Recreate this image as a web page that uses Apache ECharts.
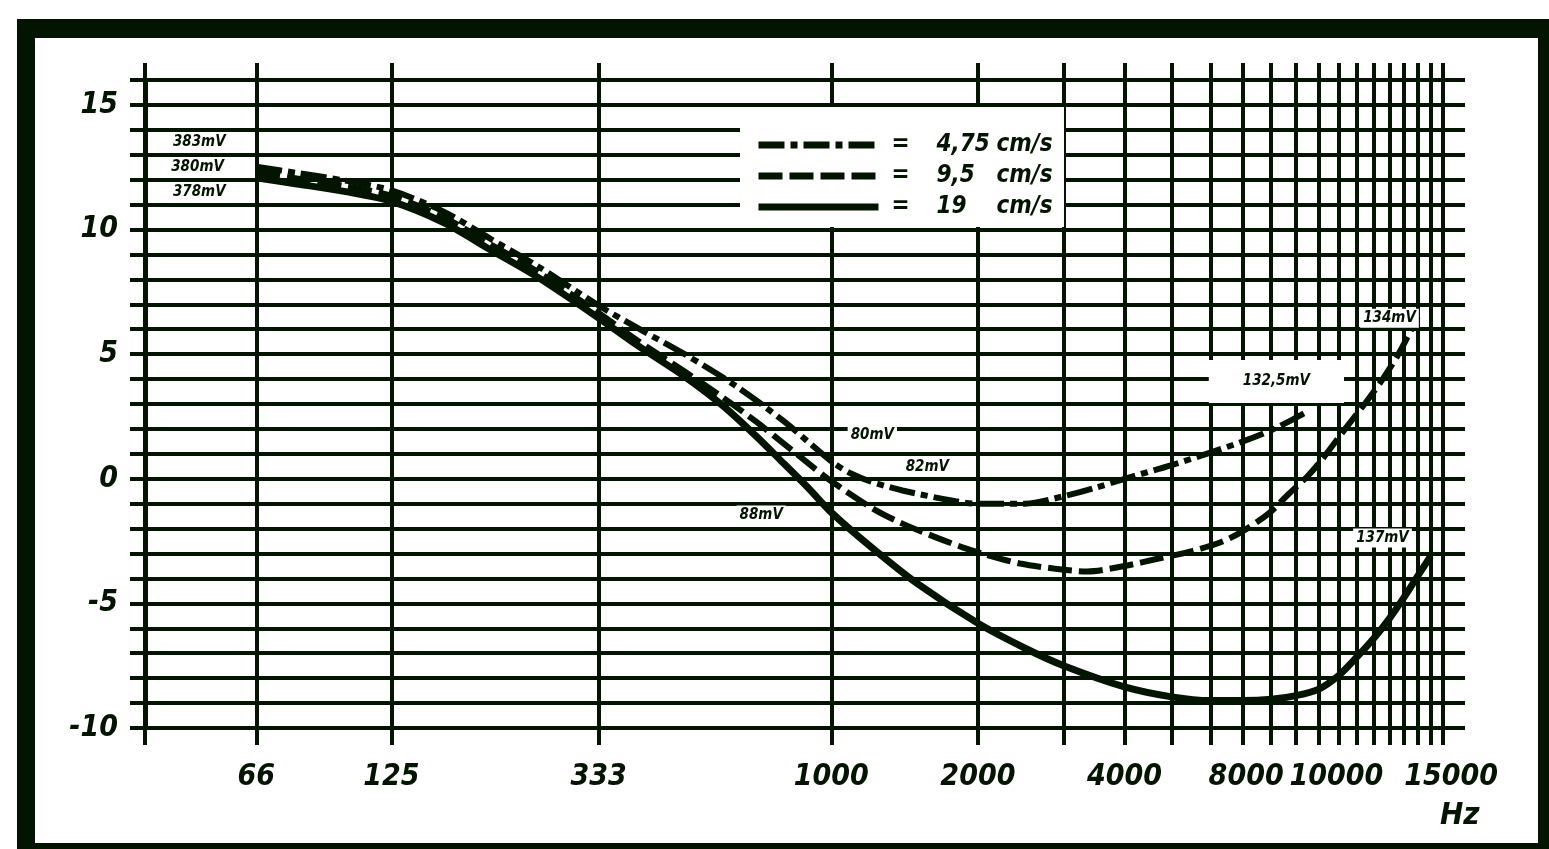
<!DOCTYPE html>
<html>
<head>
<meta charset="utf-8">
<script src="https://cdn.jsdelivr.net/npm/echarts@6/dist/echarts.min.js"></script>
<style>
html,body{margin:0;padding:0;background:#fff;}
#chart{width:1549px;height:849px;}
</style>
</head>
<body>
<div id="chart"></div>
<script>
// ---------- data ----------
const GRID_FREQS = [39, 66, 125, 333, 1000, 2000, 3000, 4000, 5000, 6000, 7000, 8000, 9000, 10000, 11000, 12000, 13000, 14000, 15000, 16000, 17000, 18000];
const LABEL_FREQS = [66, 125, 333, 1000, 2000, 4000, 8000, 10000, 15000];
const Y_LABELS = [-10, -5, 0, 5, 10, 15];

const SERIES_NAMES = ['4,75 cm/s', '9,5 cm/s', '19 cm/s'];

const F_475  = [66, 80, 100, 125, 160, 200, 250, 333, 400, 500, 634, 800, 1000, 1100, 1200, 1400, 1800, 2000, 2500, 3000, 3500, 4000, 5000, 6000, 7000, 8000, 9000, 9500];
const DB_475 = [12.52, 12.27, 11.97, 11.57, 10.72, 9.62, 8.52, 6.95, 6.05, 5.0, 3.75, 2.3, 0.7, 0.2, -0.1, -0.47, -0.9, -1.0, -1.0, -0.7, -0.35, 0.0, 0.55, 1.05, 1.5, 1.95, 2.45, 2.7];

const F_95  = [66, 80, 100, 125, 160, 200, 250, 333, 400, 500, 600, 700, 800, 900, 1000, 1230, 1400, 1640, 1860, 2080, 2440, 2860, 3350, 4000, 4700, 5500, 6300, 7000, 7900, 8700, 9500, 10200, 11300, 12500, 13500, 14500, 15300, 16000];
const DB_95 = [12.3, 12.05, 11.75, 11.35, 10.5, 9.4, 8.3, 6.65, 5.55, 4.3, 3.25, 2.3, 1.4, 0.6, -0.1, -1.25, -1.8, -2.35, -2.75, -3.05, -3.4, -3.6, -3.72, -3.5, -3.2, -2.9, -2.55, -2.1, -1.4, -0.6, 0.1, 0.8, 1.95, 3.05, 3.95, 4.9, 5.75, 6.5];

const F_19  = [66, 80, 100, 125, 160, 200, 250, 333, 400, 500, 600, 700, 800, 900, 1000, 1200, 1500, 2000, 2500, 3000, 4000, 5000, 6000, 7000, 8000, 9000, 10000, 11000, 12000, 13000, 14000, 15000, 16000, 17000];
const DB_19 = [12.08, 11.83, 11.53, 11.13, 10.28, 9.18, 8.08, 6.45, 5.35, 4.1, 2.92, 1.72, 0.6, -0.4, -1.35, -2.7, -4.2, -5.8, -6.8, -7.5, -8.35, -8.75, -8.9, -8.9, -8.85, -8.7, -8.45, -7.9, -7.15, -6.4, -5.6, -4.75, -3.9, -3.1];

const NOTE_TEXT = ['383mV', '380mV', '378mV', '80mV', '82mV', '88mV', '134mV', '132,5mV', '137mV'];
const NOTE_FREQ = [50.4, 50, 50.4, 1214, 1575, 718, 13996, 8200, 13540];
const NOTE_DB   = [13.5, 12.5, 11.5, 1.76, 0.47, -1.45, 6.44, 3.9, -2.38];

// ---------- styling ----------
const INK = '#031500';
const FONT = "'Liberation Sans Narrow', 'DejaVu Sans Condensed', 'Liberation Sans', sans-serif";

function pairs(f, d) { return f.map((v, i) => [v, d[i]]); }

const chart = echarts.init(document.getElementById('chart'), null, {renderer: 'canvas'});

const labelShift = {8000: 'l', 10000: 'r1', 15000: 'r2'};
const tickFont = {color: INK, fontFamily: FONT, fontSize: 30, fontStyle: 'italic', fontWeight: 'bold'};
const legendFont = {color: INK, fontFamily: FONT, fontSize: 24, fontStyle: 'italic', fontWeight: 'bold'};

const option = {
  animation: false,
  backgroundColor: '#ffffff',
  grid: {left: 145, right: 84, top: 80, bottom: 121, containLabel: false},
  xAxis: [{
    type: 'log', logBase: 10, min: 39, max: 20000,
    axisLine: {show: false, onZero: false},
    axisTick: {show: true, customValues: GRID_FREQS, length: 17, lineStyle: {color: INK, width: 4}},
    splitLine: {show: true, lineStyle: {color: INK, width: 4}},
    minorTick: {show: false}, minorSplitLine: {show: false},
    axisLabel: Object.assign({
      show: true, customValues: LABEL_FREQS, margin: 34,
      formatter: function (v) {
        const k = labelShift[v];
        return k ? '{' + k + '|' + v + '}' : String(v);
      },
      rich: {
        l:  Object.assign({padding: [0, 50, 0, 0]}, tickFont),
        r1: Object.assign({padding: [0, 0, 0, 36]}, tickFont),
        r2: Object.assign({padding: [0, 0, 0, 94]}, tickFont)
      }
    }, tickFont),
    name: 'Hz', nameLocation: 'end', nameGap: -25,
    nameTextStyle: {color: INK, fontFamily: FONT, fontSize: 31, fontStyle: 'italic', fontWeight: 'bold', verticalAlign: 'top', padding: [72, 0, 0, 0]}
  }, {
    type: 'log', logBase: 10, min: 39, max: 20000, position: 'top',
    axisLine: {show: false, onZero: false},
    axisTick: {show: true, customValues: GRID_FREQS, length: 17, lineStyle: {color: INK, width: 4}},
    axisLabel: {show: false}, splitLine: {show: false}
  }],
  yAxis: {
    type: 'value', min: -10, max: 16, interval: 1,
    axisLine: {show: true, onZero: false, lineStyle: {color: INK, width: 5}},
    axisTick: {show: true, length: 15, lineStyle: {color: INK, width: 4}},
    splitLine: {show: true, lineStyle: {color: INK, width: 4}},
    axisLabel: Object.assign({
      margin: 27,
      formatter: function (v) { return Y_LABELS.indexOf(v) >= 0 ? String(v) : ''; }
    }, tickFont)
  },
  legend: {
    left: 755, top: 132, padding: 0, orient: 'vertical', selectedMode: false, z: 20,
    itemWidth: 120, itemHeight: 14, itemGap: 5,
    data: SERIES_NAMES,
    lineStyle: {width: 7},
    itemStyle: {opacity: 0},
    formatter: function (name) {
      const parts = name.split(' ');
      return '{eq|=}{n|' + parts[0] + '}{u|' + parts[1] + '}';
    },
    textStyle: Object.assign({
      lineHeight: 26, align: 'left',
      rich: {
        eq: Object.assign({width: 30, align: 'left', padding: [0, 0, 0, 8]}, legendFont, {fontStyle: 'normal'}),
        n:  Object.assign({width: 56, align: 'left', padding: [0, 0, 0, 15]}, legendFont),
        u:  Object.assign({align: 'left', padding: [0, 0, 0, 4]}, legendFont)
      }
    }, legendFont)
  },
  graphic: [
    {type: 'rect', z: 10, shape: {x: 740, y: 107, width: 324, height: 120}, style: {fill: '#ffffff'}},
    {type: 'rect', z: 30, shape: {x: 17, y: 19, width: 18, height: 830}, style: {fill: INK}},
    {type: 'rect', z: 30, shape: {x: 17, y: 19, width: 1532, height: 19}, style: {fill: INK}},
    {type: 'rect', z: 30, shape: {x: 1538, y: 19, width: 11, height: 830}, style: {fill: INK}},
    {type: 'rect', z: 30, shape: {x: 17, y: 843, width: 1532, height: 6}, style: {fill: INK}}
  ],
  series: [
    {
      name: SERIES_NAMES[0], type: 'line', data: pairs(F_475, DB_475),
      symbol: 'none', smooth: 0.3, z: 3,
      lineStyle: {color: INK, width: 6, type: [26, 6, 7, 6]},
      itemStyle: {color: INK}
    },
    {
      name: SERIES_NAMES[1], type: 'line', data: pairs(F_95, DB_95),
      symbol: 'none', smooth: 0.3, z: 3,
      lineStyle: {color: INK, width: 6, type: [24, 7]},
      itemStyle: {color: INK}
    },
    {
      name: SERIES_NAMES[2], type: 'line', data: pairs(F_19, DB_19),
      symbol: 'none', smooth: 0.3, z: 4,
      lineStyle: {color: INK, width: 7, type: 'solid'},
      itemStyle: {color: INK},
      markPoint: {
        symbol: 'rect', symbolSize: 1, itemStyle: {color: 'rgba(0,0,0,0)'},
        label: {
          show: true, position: 'inside', color: INK, fontFamily: FONT, fontSize: 15,
          fontStyle: 'italic', fontWeight: 'bold', backgroundColor: '#ffffff', padding: [2, 3],
          formatter: function (p) { return p.name; }
        },
        data: NOTE_TEXT.map(function (t, i) {
          const item = {name: t, coord: [NOTE_FREQ[i], NOTE_DB[i]]};
          if (t === '132,5mV') item.label = {padding: [14, 34, 14, 34]};
          return item;
        })
      }
    }
  ]
};
chart.setOption(option);
</script>
</body>
</html>
